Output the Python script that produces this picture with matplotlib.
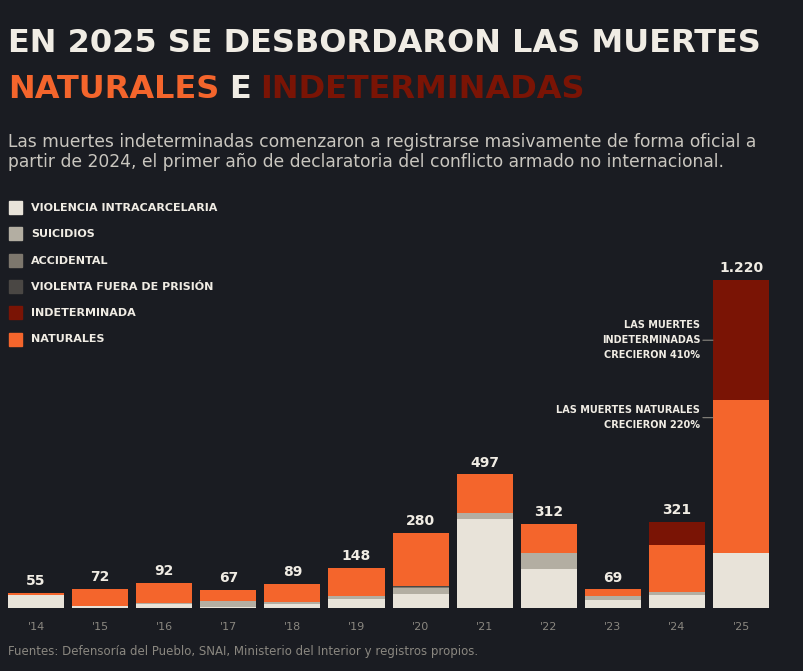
import numpy as np
import matplotlib.pyplot as plt
from matplotlib.patches import Rectangle

years = ["'14", "'15", "'16", "'17", "'18", "'19", "'20", "'21", "'22", "'23", "'24", "'25"]
totals = [55, 72, 92, 67, 89, 148, 280, 497, 312, 69, 321, 1220]
intracarcelaria = [48, 7, 15, 5, 15, 33, 52, 331, 145, 30, 48, 205]
suicidios = [0, 0, 3, 21, 7, 11, 22, 22, 60, 15, 11, 0]
accidental = [0, 0, 0, 0, 0, 2, 4, 0, 0, 0, 0, 0]
violenta_fuera = [0, 0, 0, 0, 0, 0, 4, 0, 0, 0, 0, 0]
indeterminada = [0, 0, 0, 0, 0, 0, 0, 0, 0, 0, 87, 446]
naturales = [t - a - b - c - d - e for t, a, b, c, d, e in
             zip(totals, intracarcelaria, suicidios, accidental, violenta_fuera, indeterminada)]

series = [
    ("VIOLENCIA INTRACARCELARIA", intracarcelaria, "#e8e3d9"),
    ("SUICIDIOS", suicidios, "#b3aea2"),
    ("ACCIDENTAL", accidental, "#7d776d"),
    ("VIOLENTA FUERA DE PRISIÓN", violenta_fuera, "#4a4744"),
    ("NATURALES", naturales, "#f4652c"),
    ("INDETERMINADA", indeterminada, "#7a1405"),
]
legend_order = [0, 1, 2, 3, 5, 4]

bg = "#1a1c22"
fig = plt.figure(figsize=(8.04, 6.71), dpi=100, facecolor=bg)
ax = fig.add_axes([8 / 804, 1 - 608 / 671, 762 / 804, 328 / 671 * 1300 / 1220], facecolor=bg)

x = np.arange(len(years))
bottom = np.zeros(len(years))
for name, vals, col in series:
    ax.bar(x, vals, bottom=bottom, width=0.875, color=col, linewidth=0)
    bottom += np.array(vals)
for xi, t in zip(x, totals):
    ax.text(xi, t + 18, f"{t:,}".replace(",", "."), ha="center", va="bottom",
            color="#f0ece4", fontsize=10, fontweight="bold")
ax.set_xlim(-0.437, 11.45)
ax.set_ylim(0, 1300)
ax.set_xticks(x, years)
ax.tick_params(length=0, colors="#8a8780", labelsize=8, pad=10)
ax.set_yticks([])
for s in ax.spines.values():
    s.set_visible(False)

# annotations
ax.annotate("LAS MUERTES\nINDETERMINADAS\nCRECIERON 410%", xy=(10.56, 996), xytext=(10.36, 996),
            ha="right", va="center", color="#f0ece4", fontsize=7, fontweight="bold",
            linespacing=1.6, arrowprops=dict(arrowstyle="-", color="#8a8780", lw=0.8,
                                             shrinkA=0, shrinkB=0))
ax.annotate("LAS MUERTES NATURALES\nCRECIERON 220%", xy=(10.56, 708), xytext=(10.36, 708),
            ha="right", va="center", color="#f0ece4", fontsize=7, fontweight="bold",
            linespacing=1.6, arrowprops=dict(arrowstyle="-", color="#8a8780", lw=0.8,
                                             shrinkA=0, shrinkB=0))

# titles
fig.text(8 / 804, 1 - 44 / 671, "EN 2025 SE DESBORDARON LAS MUERTES", color="#f0ece4",
         fontsize=23, fontweight="heavy", va="center")
t1 = fig.text(8 / 804, 1 - 90 / 671, "NATURALES", color="#f4652c", fontsize=23,
              fontweight="heavy", va="center")
fig.canvas.draw()
bb = t1.get_window_extent()
t2 = fig.text(bb.x1 / 804 + 0.012, 1 - 90 / 671, "E", color="#f0ece4", fontsize=23,
              fontweight="heavy", va="center")
bb2 = t2.get_window_extent()
fig.text(bb2.x1 / 804 + 0.012, 1 - 90 / 671, "INDETERMINADAS", color="#7a1405", fontsize=23,
         fontweight="heavy", va="center")
fig.text(8 / 804, 1 - 152 / 671,
         "Las muertes indeterminadas comenzaron a registrarse masivamente de forma oficial a\n"
         "partir de 2024, el primer año de declaratoria del conflicto armado no internacional.",
         color="#c9c6bf", fontsize=12.3, va="center", linespacing=1.15)

for i, k in enumerate(legend_order):
    name, _, col = series[k]
    y = 1 - (208 + 26.3 * i) / 671
    fig.patches.append(Rectangle((9 / 804, y - 6 / 671), 13 / 804, 13 / 671,
                                 transform=fig.transFigure, color=col, figure=fig))
    fig.text(31 / 804, y, name, color="#f0ece4", fontsize=8, fontweight="bold", va="center")

fig.text(8 / 804, 1 - 652 / 671, "Fuentes: Defensoría del Pueblo, SNAI, Ministerio del Interior y registros propios.",
         color="#8a8780", fontsize=8.5, va="center")

fig.savefig("out.png", dpi=100, facecolor=bg)
